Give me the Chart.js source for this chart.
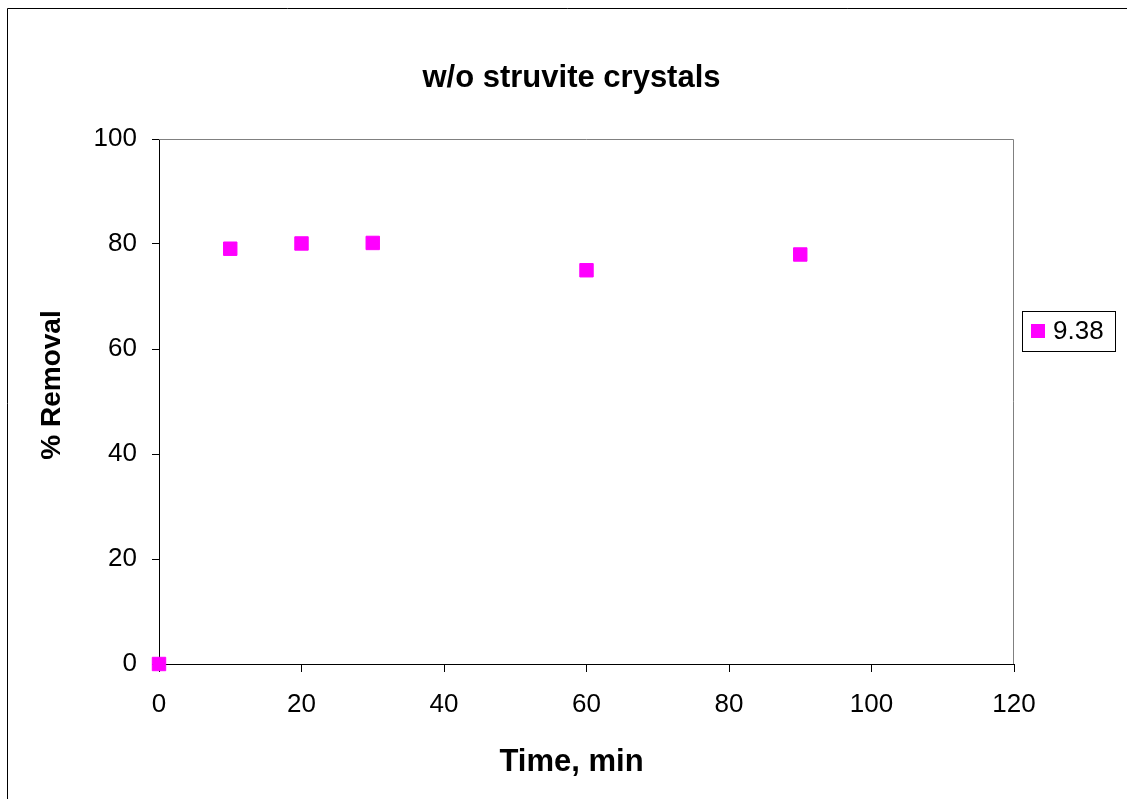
<!DOCTYPE html>
<html>
<head>
<meta charset="utf-8">
<script src="https://cdn.jsdelivr.net/npm/chart.js@4.4.1/dist/chart.umd.min.js"></script>
<style>
	html, body { margin: 0; padding: 0; background: #fff; }
</style>
</head>
<body>
<canvas id="removal-chart" width="1127" height="799"></canvas>
<script>
// values
const timeMin = [0, 10, 20, 30, 60, 90];
const removalPct = [0, 79.1, 80.1, 80.2, 75.0, 78.0];
const seriesLabel = '9.38';
const xTicks = [0, 20, 40, 60, 80, 100, 120];
const yTicks = [0, 20, 40, 60, 80, 100];

const chartTitle = 'w/o struvite crystals';
const xTitle = 'Time, min';
const yTitle = '% Removal';

document.addEventListener('DOMContentLoaded', function () {
	const canvas = document.getElementById('removal-chart');

	if (!canvas || typeof Chart === 'undefined') {
		console.log('Error finding chart');
		return;
	}

	const fontFamily = '"Liberation Sans", Arial, sans-serif';
	const magenta = '#ff00ff';

	Chart.defaults.font.family = fontFamily;
	Chart.defaults.color = '#000';

	// page frame, grey plot edges, axis titles and the boxed legend
	const framePlugin = {
		id: 'frame',
		beforeDraw: function (chart) {
			const ctx = chart.ctx;
			ctx.save();
			ctx.fillStyle = '#fff';
			ctx.fillRect(0, 0, chart.width, chart.height);
			ctx.strokeStyle = '#000';
			ctx.lineWidth = 1;
			ctx.beginPath();
			ctx.moveTo(7.5, chart.height);
			ctx.lineTo(7.5, 8.5);
			ctx.lineTo(chart.width, 8.5);
			ctx.stroke();
			ctx.restore();
		},
		beforeDatasetsDraw: function (chart) {
			const a = chart.chartArea;
			const ctx = chart.ctx;
			ctx.save();
			ctx.strokeStyle = '#808080';
			ctx.lineWidth = 1;
			ctx.beginPath();
			ctx.moveTo(a.left, Math.round(a.top) + 0.5);
			ctx.lineTo(Math.round(a.right) - 0.5, Math.round(a.top) + 0.5);
			ctx.lineTo(Math.round(a.right) - 0.5, a.bottom);
			ctx.stroke();
			ctx.restore();
		},
		afterDraw: function (chart) {
			const ctx = chart.ctx;
			const a = chart.chartArea;
			ctx.save();
			ctx.fillStyle = '#000';
			ctx.textAlign = 'center';
			ctx.textBaseline = 'middle';

			ctx.font = 'bold 31px ' + fontFamily;
			ctx.fillText(xTitle, 571.5, 762);

			ctx.translate(52.5, 385);
			ctx.rotate(-Math.PI / 2);
			ctx.font = 'bold 28px ' + fontFamily;
			ctx.fillText(yTitle, 0, 0);
			ctx.restore();

			// legend, to the right of the plot
			const ds = chart.data.datasets[0];
			const boxLeft = Math.round(a.right) + 8;
			const boxTop = 311;
			ctx.save();
			ctx.strokeStyle = '#000';
			ctx.lineWidth = 1;
			ctx.strokeRect(boxLeft + 0.5, boxTop + 0.5, 93, 40);
			ctx.fillStyle = ds.backgroundColor;
			ctx.fillRect(boxLeft + 9, boxTop + 13, 14, 14);
			ctx.fillStyle = '#000';
			ctx.font = '26px ' + fontFamily;
			ctx.textAlign = 'left';
			ctx.textBaseline = 'middle';
			ctx.fillText(ds.label, boxLeft + 31, boxTop + 21);
			ctx.restore();
		}
	};

	const points = timeMin.map((t, i) => ({ x: t, y: removalPct[i] }));

	new Chart(canvas, {
		type: 'scatter',
		data: {
			datasets: [{
				label: seriesLabel,
				data: points,
				backgroundColor: magenta,
				borderColor: magenta,
				borderWidth: 1,
				pointStyle: 'rect',
				pointRadius: 9.5,
				pointHoverRadius: 9.5,
				clip: false
			}]
		},
		options: {
			responsive: false,
			animation: false,
			devicePixelRatio: 1,
			layout: {
				padding: { left: 24, right: 8, top: 0, bottom: 0 }
			},
			scales: {
				x: {
					type: 'linear',
					min: xTicks[0],
					max: xTicks[xTicks.length - 1],
					afterFit: function (scale) {
						scale.height = 135;
					},
					ticks: {
						stepSize: xTicks[1] - xTicks[0],
						padding: 17,
						maxRotation: 0,
						font: { size: 26 },
						color: '#000'
					},
					grid: {
						drawOnChartArea: false,
						drawTicks: true,
						tickLength: 8,
						tickColor: '#000'
					},
					border: { color: '#000', width: 1 }
				},
				y: {
					type: 'linear',
					min: yTicks[0],
					max: yTicks[yTicks.length - 1],
					afterFit: function (scale) {
						scale.width = 135;
					},
					ticks: {
						stepSize: yTicks[1] - yTicks[0],
						padding: 15,
						font: { size: 26 },
						color: '#000'
					},
					grid: {
						drawOnChartArea: false,
						drawTicks: true,
						tickLength: 7,
						tickColor: '#000'
					},
					border: { color: '#000', width: 1 }
				},
				// empty axis on the right, only keeps room for the legend box
				legendSpace: {
					type: 'linear',
					position: 'right',
					afterFit: function (scale) {
						scale.width = 105;
					},
					ticks: { display: false },
					grid: { display: false },
					border: { display: false }
				}
			},
			plugins: {
				title: {
					display: true,
					text: chartTitle,
					font: { size: 31, weight: 'bold' },
					color: '#000',
					padding: { top: 59.4, bottom: 42.4 }
				},
				legend: { display: false },
				tooltip: { enabled: false }
			}
		},
		plugins: [framePlugin]
	});
});
</script>
</body>
</html>
